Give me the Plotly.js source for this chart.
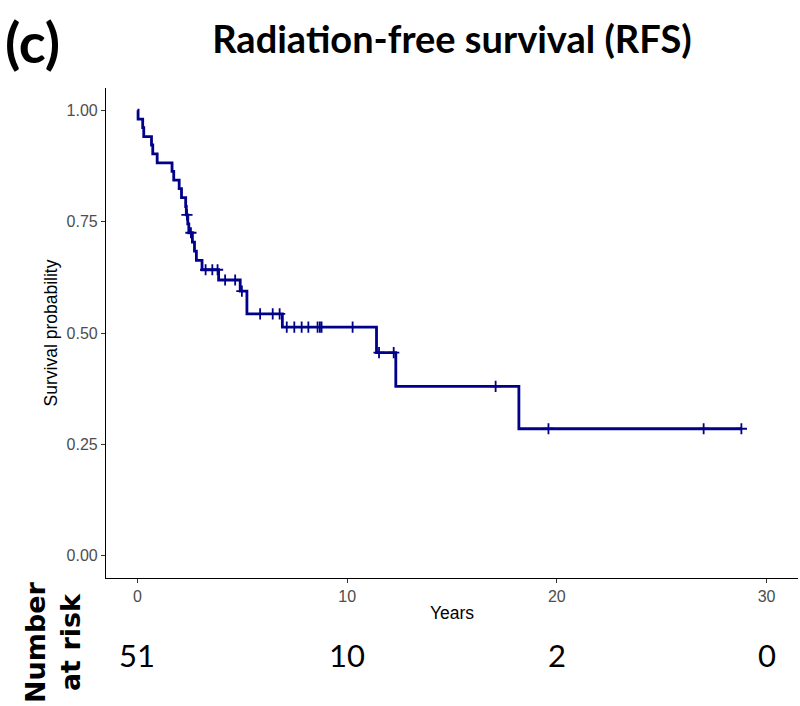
<!DOCTYPE html>
<html><head><meta charset="utf-8">
<script src="https://cdn.plot.ly/plotly-3.0.1.min.js"></script>
<style>html,body{margin:0;padding:0;background:#fff}#chart{width:800px;height:706px}</style>
</head><body><div id="chart"></div>
<script>
// Kaplan-Meier step curve (time in years, survival probability)
const stepTimes = [0, 0.03, 0.25, 0.30, 0.67, 0.73, 0.94, 1.65, 1.73, 1.99, 2.10, 2.30, 2.33, 2.40, 2.45, 2.62, 2.72, 2.81, 3.08, 3.87, 4.90, 5.22, 6.91, 11.40, 12.32, 18.19, 28.80];
const stepSurv  = [1.000, 0.980, 0.961, 0.941, 0.922, 0.902, 0.882, 0.863, 0.843, 0.824, 0.804, 0.784, 0.765, 0.745, 0.725, 0.704, 0.684, 0.663, 0.642, 0.619, 0.594, 0.543, 0.513, 0.456, 0.380, 0.285, 0.285];
// censored observations
const censorTimes = [2.36, 2.55, 3.25, 3.57, 3.82, 4.18, 4.66, 4.98, 5.85, 6.45, 6.78, 7.12, 7.48, 7.83, 8.15, 8.59, 8.70, 8.78, 10.26, 11.52, 12.22, 17.08, 19.60, 27.00, 28.80];
const censorSurv  = [0.765, 0.725, 0.642, 0.642, 0.642, 0.619, 0.619, 0.594, 0.543, 0.543, 0.543, 0.513, 0.513, 0.513, 0.513, 0.513, 0.513, 0.513, 0.513, 0.456, 0.456, 0.380, 0.285, 0.285, 0.285];
// number at risk table
const riskTimes  = [0, 10, 20, 30];
const riskCounts = [51, 10, 2, 0];
// axis ticks
const xTickVals = [0, 10, 20, 30];
const yTickVals = [0, 0.25, 0.5, 0.75, 1];
const yTickText = ['0.00', '0.25', '0.50', '0.75', '1.00'];

const curveColor = '#00008B';
const sans = '"Liberation Sans", Arial, sans-serif';
const headline = 'Lato, "Liberation Sans", sans-serif';

const traces = [
  {x: stepTimes, y: stepSurv, type: 'scatter', mode: 'lines',
   line: {shape: 'hv', color: curveColor, width: 2.8}, hoverinfo: 'skip'},
  {x: censorTimes, y: censorSurv, type: 'scatter', mode: 'markers',
   marker: {symbol: 'cross-thin', size: 8, color: curveColor, line: {color: curveColor, width: 1.8}}, hoverinfo: 'skip'}
];

const annotations = [
  {text: '<b>(c)</b>', xref: 'paper', yref: 'paper', x: (3 - 106) / 692, y: (578 - 42) / 490,
   xanchor: 'left', yanchor: 'middle', showarrow: false, font: {family: headline, size: 56, color: '#000'}},
  {text: '<b>Number<br>at risk</b>', xref: 'paper', yref: 'paper', x: (53 - 106) / 692, y: (578 - 642) / 490,
   xanchor: 'center', yanchor: 'middle', textangle: -90, showarrow: false, align: 'center',
   font: {family: '"DejaVu Sans", sans-serif', size: 27, color: '#000'}}
];
riskTimes.forEach((t, i) => annotations.push({
  text: String(riskCounts[i]), xref: 'x', yref: 'paper', x: t, y: (578 - 655) / 490,
  xanchor: 'center', yanchor: 'middle', showarrow: false,
  font: {family: headline, size: 31, color: '#000'}
}));

const layout = {
  width: 800, height: 706,
  margin: {l: 106, r: 2, t: 88, b: 128, pad: 0},
  paper_bgcolor: '#fff', plot_bgcolor: '#fff',
  showlegend: false,
  title: {text: '<b>Radiation-free survival (RFS)</b>', xref: 'paper', x: 0.5, xanchor: 'center',
          yref: 'container', y: 1 - 40 / 706, yanchor: 'middle',
          font: {family: headline, size: 38, color: '#000'}},
  xaxis: {range: [-1.5, 31.5], tickvals: xTickVals, showgrid: false, zeroline: false,
          showline: true, linecolor: '#000', linewidth: 1.1, ticks: 'outside', ticklen: 4, tickcolor: '#333', tickwidth: 1,
          tickfont: {family: sans, size: 16, color: '#4d4d4d'},
          title: {text: 'Years', standoff: 2, font: {family: sans, size: 17.5, color: '#000'}}},
  yaxis: {range: [-0.05, 1.05], tickvals: yTickVals, ticktext: yTickText, showgrid: false, zeroline: false,
          showline: true, linecolor: '#000', linewidth: 1.1, ticks: 'outside', ticklen: 4, tickcolor: '#333', tickwidth: 1,
          tickfont: {family: sans, size: 16, color: '#4d4d4d'},
          title: {text: 'Survival probability', standoff: 4, font: {family: sans, size: 17.5, color: '#000'}}},
  annotations: annotations
};

Plotly.newPlot('chart', traces, layout, {displayModeBar: false, staticPlot: true});
</script></body></html>
